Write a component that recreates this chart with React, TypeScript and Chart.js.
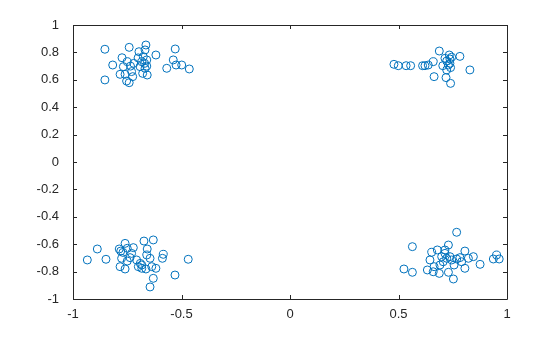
import React, { useEffect, useRef } from "react";
import { Chart, registerables } from "chart.js";

Chart.register(...registerables);

const topLeftX = [-0.853, -0.741, -0.664, -0.696, -0.529, -0.618, -0.817, -0.774, -0.750, -0.768, -0.853, -0.783, -0.753, -0.741, -0.725, -0.676, -0.683, -0.660, -0.691, -0.668, -0.679, -0.658, -0.568, -0.538, -0.525, -0.499, -0.464, -0.668, -0.720, -0.700, -0.670, -0.730, -0.660, -0.760, -0.735];
const topLeftY = [0.823, 0.837, 0.854, 0.805, 0.825, 0.781, 0.708, 0.761, 0.732, 0.696, 0.599, 0.640, 0.591, 0.579, 0.623, 0.769, 0.732, 0.745, 0.696, 0.684, 0.647, 0.635, 0.684, 0.745, 0.708, 0.708, 0.679, 0.818, 0.720, 0.760, 0.720, 0.660, 0.700, 0.640, 0.700];

const topRightX = [0.479, 0.499, 0.535, 0.556, 0.611, 0.622, 0.637, 0.660, 0.688, 0.734, 0.783, 0.829, 0.664, 0.719, 0.740, 0.704, 0.722, 0.737, 0.730, 0.740, 0.722, 0.737, 0.714, 0.745];
const topRightY = [0.713, 0.703, 0.703, 0.703, 0.703, 0.703, 0.708, 0.732, 0.810, 0.781, 0.771, 0.672, 0.623, 0.616, 0.574, 0.703, 0.737, 0.752, 0.708, 0.689, 0.672, 0.720, 0.757, 0.765];

const bottomLeftX = [-0.934, -0.888, -0.848, -0.787, -0.780, -0.760, -0.750, -0.722, -0.673, -0.630, -0.658, -0.660, -0.584, -0.588, -0.469, -0.776, -0.737, -0.707, -0.683, -0.645, -0.783, -0.760, -0.750, -0.699, -0.683, -0.664, -0.637, -0.618, -0.630, -0.645, -0.530, -0.730, -0.690, -0.770];
const bottomLeftY = [-0.715, -0.635, -0.710, -0.635, -0.650, -0.594, -0.630, -0.625, -0.577, -0.569, -0.635, -0.679, -0.674, -0.703, -0.710, -0.703, -0.698, -0.715, -0.752, -0.703, -0.764, -0.781, -0.723, -0.764, -0.776, -0.781, -0.764, -0.776, -0.849, -0.912, -0.825, -0.667, -0.740, -0.660];

const bottomRightX = [0.768, 0.564, 0.730, 0.525, 0.564, 0.633, 0.653, 0.679, 0.714, 0.645, 0.664, 0.688, 0.730, 0.753, 0.806, 0.845, 0.876, 0.806, 0.937, 0.952, 0.964, 0.722, 0.737, 0.745, 0.768, 0.783, 0.706, 0.699, 0.756, 0.660, 0.714, 0.791, 0.822, 0.691];
const bottomRightY = [-0.513, -0.618, -0.606, -0.781, -0.805, -0.788, -0.659, -0.642, -0.642, -0.715, -0.764, -0.813, -0.805, -0.854, -0.650, -0.691, -0.747, -0.776, -0.708, -0.679, -0.708, -0.703, -0.691, -0.715, -0.708, -0.698, -0.728, -0.691, -0.752, -0.801, -0.667, -0.728, -0.703, -0.752];

const allX = [...topLeftX, ...topRightX, ...bottomLeftX, ...bottomRightX];
const allY = [...topLeftY, ...topRightY, ...bottomLeftY, ...bottomRightY];

const xTickStep = 0.5;
const yTickStep = 0.2;

const axisColor = "#262626";

const boxPlugin = {
  id: "matlabBox",
  afterDraw(chart: any) {
    const { ctx, chartArea } = chart;
    const { left, right, top, bottom } = chartArea;
    const xs = chart.scales.x;
    const ys = chart.scales.y;
    const tl = 4;
    ctx.save();
    ctx.strokeStyle = axisColor;
    ctx.lineWidth = 1;
    ctx.beginPath();
    ctx.rect(Math.round(left) + 0.5, Math.round(top) + 0.5, Math.round(right - left), Math.round(bottom - top));
    ctx.stroke();
    ctx.beginPath();
    xs.ticks.forEach((t: any) => {
      const px = Math.round(xs.getPixelForValue(t.value)) + 0.5;
      ctx.moveTo(px, bottom);
      ctx.lineTo(px, bottom - tl);
      ctx.moveTo(px, top);
      ctx.lineTo(px, top + tl);
    });
    ys.ticks.forEach((t: any) => {
      const py = Math.round(ys.getPixelForValue(t.value)) + 0.5;
      ctx.moveTo(left, py);
      ctx.lineTo(left + tl, py);
      ctx.moveTo(right, py);
      ctx.lineTo(right - tl, py);
    });
    ctx.stroke();
    ctx.restore();
  },
};

const fmt = (v: any) => {
  const n = Number(Number(v).toFixed(1));
  return (n === 0 ? 0 : n).toString();
};

export default function App() {
  const ref = useRef<HTMLCanvasElement | null>(null);
  useEffect(() => {
    document.body.style.margin = "0";
    const canvas = ref.current;
    if (!canvas) return;
    const chart = new Chart(canvas, {
      type: "scatter",
      data: {
        datasets: [
          {
            data: allX.map((x, i) => ({ x, y: allY[i] })),
            borderColor: "#0072BD",
            backgroundColor: "rgba(0,0,0,0)",
            borderWidth: 1,
            pointRadius: 4,
            pointHoverRadius: 4,
            clip: false as any,
          },
        ],
      },
      options: {
        animation: false,
        responsive: false,
        events: [],
        layout: { padding: { left: 0, right: 53, top: 25, bottom: 0 } },
        plugins: { legend: { display: false }, tooltip: { enabled: false } },
        scales: {
          x: {
            type: "linear",
            min: -1,
            max: 1,
            grid: { display: false },
            border: { display: false },
            ticks: {
              stepSize: xTickStep,
              padding: 0,
              color: axisColor,
              font: { family: "Liberation Sans", size: 13 },
              maxRotation: 0,
              callback: (v: any) => fmt(v),
            },
            afterFit: (s: any) => {
              s.height = 38;
            },
          },
          y: {
            type: "linear",
            min: -1,
            max: 1,
            grid: { display: false },
            border: { display: false },
            ticks: {
              stepSize: yTickStep,
              padding: 6,
              color: axisColor,
              font: { family: "Liberation Sans", size: 13 },
              callback: (v: any) => fmt(v),
            },
            afterFit: (s: any) => {
              s.width = 73;
            },
          },
        },
      },
      plugins: [boxPlugin],
    });
    return () => chart.destroy();
  }, []);
  return (
    <div style={{ width: 560, height: 337, background: "#fff" }}>
      <canvas ref={ref} width={560} height={337} style={{ display: "block" }} />
    </div>
  );
}
